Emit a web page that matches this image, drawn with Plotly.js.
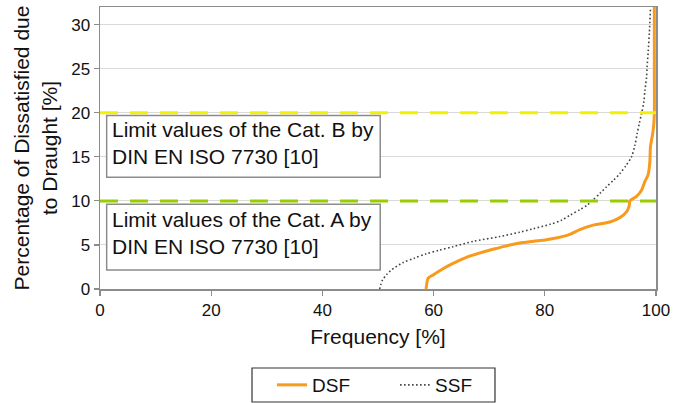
<!DOCTYPE html>
<html>
<head>
<meta charset="utf-8">
<script src="https://cdn.plot.ly/plotly-3.0.1.min.js"></script>
<style>html,body{margin:0;padding:0;background:#fff;}#chart{width:687px;height:403px;}</style>
</head>
<body>
<div id="chart"></div>
<script>
// DSF curve: frequency [%] vs percentage dissatisfied [%]
const dsfFreq = [58.6, 58.7, 59.0, 59.9, 61.7, 63.5, 65.9, 68.9, 71.9, 73.7, 75.5, 78.0, 80.3, 82.5, 84.5, 86.3, 88.7, 91.7, 93.5, 94.7, 95.2, 95.3, 96.5, 97.4, 98.0, 98.6, 98.9, 99.0, 99.4, 99.6, 99.7, 99.7, 99.7];
const dsfPD   = [0.0, 0.25, 1.2, 1.6, 2.3, 2.9, 3.6, 4.2, 4.7, 5.0, 5.22, 5.42, 5.6, 5.85, 6.2, 6.75, 7.25, 7.6, 8.1, 8.75, 9.5, 10.0, 10.5, 11.2, 12.2, 13.0, 14.5, 16.1, 17.6, 18.7, 19.9, 25.0, 32.0];
// SSF curve
const ssfFreq = [50.3, 50.5, 50.8, 51.5, 52.3, 54.5, 56.5, 58.7, 61.0, 63.5, 67.1, 71.9, 75.5, 78.0, 81.0, 83.0, 84.6, 86.3, 87.6, 88.5, 90.0, 91.1, 92.3, 93.5, 94.6, 95.6, 96.2, 96.6, 97.0, 97.4, 97.8, 98.0, 98.3, 98.4, 98.6, 98.8, 99.0];
const ssfPD   = [0.0, 0.5, 1.0, 1.6, 2.1, 3.0, 3.5, 4.0, 4.4, 4.8, 5.4, 5.95, 6.45, 6.85, 7.35, 7.8, 8.4, 9.0, 9.5, 10.0, 10.9, 11.6, 12.3, 13.1, 14.0, 15.0, 16.3, 17.6, 18.8, 19.9, 21.2, 22.5, 24.0, 25.2, 27.0, 29.0, 31.8];
// Category limits (DIN EN ISO 7730)
const limitValues = [10, 20];
const limitColors = ['#9acd00', '#f2f200'];
const limitLabels = ['Limit values of the Cat. A by<br>DIN EN ISO 7730 [10]', 'Limit values of the Cat. B by<br>DIN EN ISO 7730 [10]'];
const seriesNames = ['DSF', 'SSF'];

const FONT = 'Liberation Sans, Arial, Helvetica, sans-serif';

const traces = [
  {x: dsfFreq, y: dsfPD, name: seriesNames[0], mode: 'lines',
   line: {color: '#f89a1c', width: 3, shape: 'spline', smoothing: 0.8}},
  {x: ssfFreq, y: ssfPD, name: seriesNames[1], mode: 'lines',
   line: {color: '#444444', width: 1.6, dash: '1.6px,2.4px', shape: 'spline', smoothing: 0.8}}
];

// label boxes (data coords) for Cat. A and Cat. B
const boxes = [
  {x0: 1.2, x1: 50.4, y0: 2.15, y1: 9.63, ty: 6.35},
  {x0: 1.2, x1: 50.4, y0: 12.68, y1: 19.7, ty: 16.6}
];

const shapes = [];
limitValues.forEach((v, i) => {
  shapes.push({type: 'line', xref: 'x', yref: 'y', x0: 0, x1: 100, y0: v, y1: v,
    line: {color: limitColors[i], width: 3, dash: '18px,12px'}, layer: 'above'});
});
boxes.forEach(b => {
  shapes.push({type: 'rect', xref: 'x', yref: 'y', x0: b.x0, x1: b.x1, y0: b.y0, y1: b.y1,
    fillcolor: '#ffffff', line: {color: '#8c8c8c', width: 1.5}, layer: 'above'});
});
// legend frame
shapes.push({type: 'rect', xref: 'paper', yref: 'paper', x0: 0.2734, x1: 0.7104, y0: -0.4007, y1: -0.2801,
  line: {color: '#333333', width: 1.2}, fillcolor: 'rgba(0,0,0,0)'});

const annotations = boxes.map((b, i) => ({
  xref: 'x', yref: 'y', x: 1.8, y: b.ty, xanchor: 'left', yanchor: 'middle', align: 'left',
  text: limitLabels[i], showarrow: false, font: {family: FONT, size: 21, color: '#111'}
}));

const layout = {
  width: 687, height: 403,
  margin: {l: 100, r: 31, t: 7, b: 114},
  paper_bgcolor: '#fff', plot_bgcolor: '#fff',
  font: {family: FONT, color: '#111'},
  showlegend: true,
  legend: {orientation: 'h', xref: 'container', yref: 'container', x: 0.396, xanchor: 'left', y: 0.0447, yanchor: 'middle',
    font: {family: FONT, size: 19, color: '#111'}, borderwidth: 0, bgcolor: 'rgba(0,0,0,0)',
    entrywidth: 78, entrywidthmode: 'pixels', tracegroupgap: 0},
  xaxis: {range: [0, 100], dtick: 20, tick0: 0, showgrid: false, zeroline: false,
    showline: true, linecolor: '#8c8c8c', linewidth: 1.5, mirror: true,
    ticks: 'outside', ticklen: 5, tickcolor: '#8c8c8c', tickwidth: 1.2,
    tickfont: {family: FONT, size: 17, color: '#111'},
    title: {text: 'Frequency [%]', font: {family: FONT, size: 21, color: '#111'}, standoff: 10},
    automargin: false},
  yaxis: {range: [0, 32], dtick: 5, tick0: 0, showgrid: true, gridcolor: '#d9d9d9', gridwidth: 1,
    zeroline: false, showline: true, linecolor: '#8c8c8c', linewidth: 1.5, mirror: true,
    ticks: 'outside', ticklen: 5, tickcolor: '#8c8c8c', tickwidth: 1.2,
    tickfont: {family: FONT, size: 17, color: '#111'},
    title: {text: 'Percentage of Dissatisfied due<br>to Draught [%]', font: {family: FONT, size: 21, color: '#111'}, standoff: 8},
    automargin: false},
  shapes: shapes,
  annotations: annotations
};

Plotly.newPlot('chart', traces, layout, {displayModeBar: false, staticPlot: true});
</script>
</body>
</html>
